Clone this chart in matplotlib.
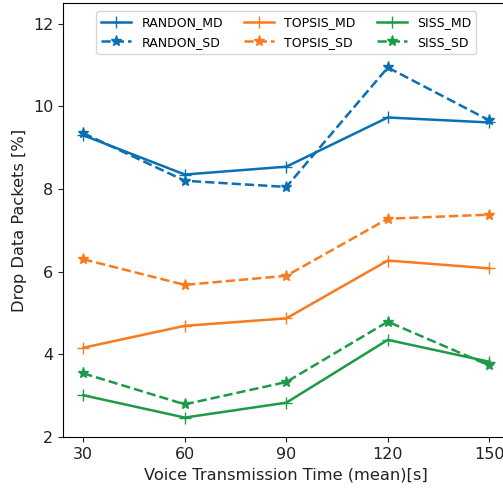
import matplotlib
matplotlib.use("Agg")
import matplotlib.pyplot as plt

x = [30, 60, 90, 120, 150]
randon_md = [9.30, 8.35, 8.54, 9.73, 9.61]
randon_sd = [9.35, 8.20, 8.05, 10.94, 9.66]
topsis_md = [4.16, 4.69, 4.87, 6.27, 6.08]
topsis_sd = [6.30, 5.68, 5.90, 7.28, 7.38]
siss_md = [3.01, 2.47, 2.83, 4.35, 3.82]
siss_sd = [3.54, 2.79, 3.33, 4.79, 3.73]
xticks = [30, 60, 90, 120, 150]
yticks = [2, 4, 6, 8, 10, 12]

blue = '#0a6fb3'
orange = '#fa7a1e'
green = '#1d9a48'

fig = plt.figure(figsize=(5.03, 4.91), dpi=100)
ax = fig.add_axes([63/503, 54/491, 446.6/503, 434/491])

ax.plot(x, randon_md, color=blue, marker='+', ms=8, lw=1.8, label='RANDON_MD')
ax.plot(x, randon_sd, color=blue, marker='*', ms=8, lw=1.8, ls='--', label='RANDON_SD')
ax.plot(x, topsis_md, color=orange, marker='+', ms=8, lw=1.8, label='TOPSIS_MD')
ax.plot(x, topsis_sd, color=orange, marker='*', ms=8, lw=1.8, ls='--', label='TOPSIS_SD')
ax.plot(x, siss_md, color=green, marker='+', ms=8, lw=1.8, label='SISS_MD')
ax.plot(x, siss_sd, color=green, marker='*', ms=8, lw=1.8, ls='--', label='SISS_SD')

ax.set_xlim(24, 156)
ax.set_ylim(2, 12.5)
ax.set_xticks(xticks)
ax.set_yticks(yticks)
ax.tick_params(labelsize=11.5, colors='#222222')
ax.set_xlabel('Voice Transmission Time (mean)[s]', fontsize=11.7, color='#222222')
ax.set_ylabel('Drop Data Packets [%]', fontsize=11.7, color='#222222')
ax.legend(ncol=3, loc='upper center', bbox_to_anchor=(0.50, 0.995), fontsize=9,
          handlelength=2.4, columnspacing=1.7, framealpha=0.8)

fig.savefig('out.png', dpi=100)
